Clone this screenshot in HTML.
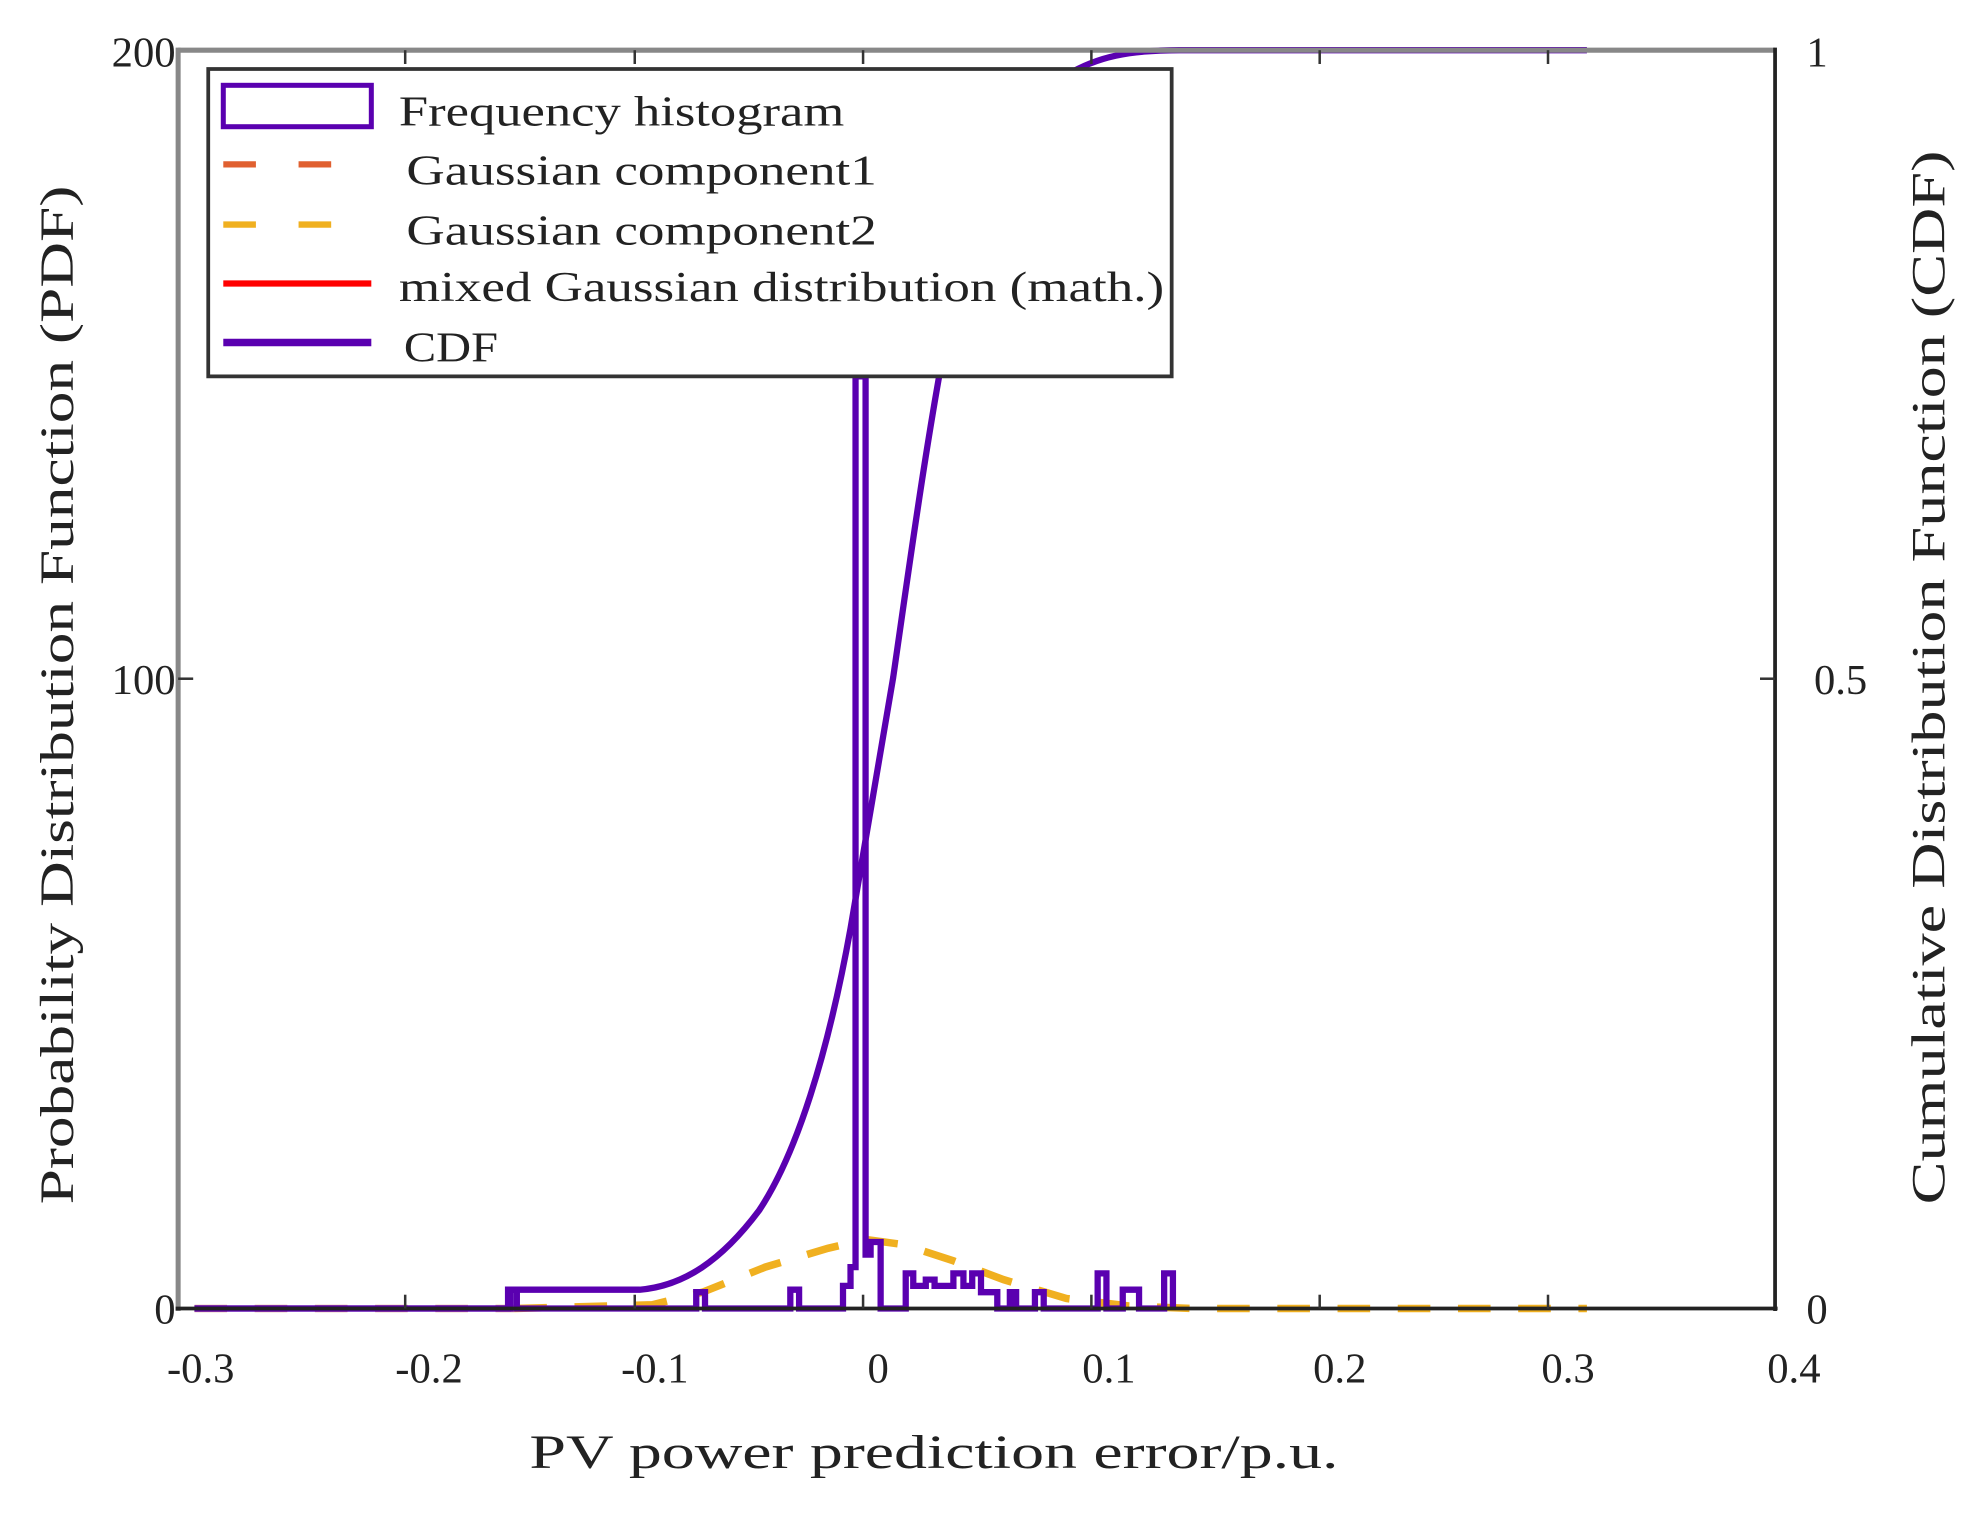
<!DOCTYPE html>
<html><head><meta charset="utf-8"><style>html,body{margin:0;padding:0;background:#fff;}svg{display:block}</style></head>
<body>
<svg width="1967" height="1513" viewBox="0 0 1568 1206" preserveAspectRatio="none" xmlns="http://www.w3.org/2000/svg" font-family="Liberation Serif, serif" fill="#222">
<rect width="1568" height="1206" fill="#fff"/>
<path d="M410,1043 L520,1040 L560,1030 L610,1010 L660,995 L690,988 L720,992 L760,1005 L800,1020 L850,1035 L900,1041 L950,1043 L1265,1043" fill="none" stroke="#f0b020" stroke-width="6" stroke-dasharray="26,22"/>
<path d="M155,1043 L410,1043" fill="none" stroke="#c86040" stroke-width="6" stroke-dasharray="26,22" opacity="0.6"/>
<g fill="none" stroke="#5a00b0" stroke-width="5">
<path d="M155,1043 L405,1043 L405,1028 L412,1028 L412,1043 L555,1043 L555,1030 L562,1030 L562,1043 L630,1043 L630,1028 L637,1028 L637,1043 L672,1043 L672,1025 L678,1025 L678,1010 L682,1010 L682,300 L690,300 L690,1000 L694,1000 L694,990 L702,990 L702,1043 L722,1043 L722,1015 L728,1015 L728,1025 L738,1025 L738,1020 L745,1020 L745,1025 L760,1025 L760,1015 L768,1015 L768,1025 L775,1025 L775,1015 L782,1015 L782,1030 L795,1030 L795,1043 L805,1043 L805,1030 L810,1030 L810,1043 L825,1043 L825,1030 L832,1030 L832,1043 L875,1043 L875,1015 L882,1015 L882,1043 L895,1043 L895,1028 L908,1028 L908,1043 L928,1043 L928,1015 L935,1015 L935,1043"/>
</g>
<path d="M155,1043 L407,1043 L407,1028 L510,1028 C545,1025 575,1005 605,965 C635,920 660,840 678,740 C690,670 700,610 712,540 C725,450 740,340 758,250 C780,160 810,90 850,60 C875,45 900,40 940,40 L1265,40" fill="none" stroke="#5a00b0" stroke-width="5"/>
<line x1="142" y1="40" x2="1415" y2="40" stroke="#888" stroke-width="4"/>
<line x1="142" y1="38" x2="142" y2="1045" stroke="#888" stroke-width="4"/>
<line x1="1415" y1="38" x2="1415" y2="1045" stroke="#222" stroke-width="3"/>
<line x1="140" y1="1043" x2="1417" y2="1043" stroke="#222" stroke-width="3"/>
<g stroke="#333" stroke-width="2">
<line x1="323" y1="1043" x2="323" y2="1032"/><line x1="506" y1="1043" x2="506" y2="1032"/><line x1="688" y1="1043" x2="688" y2="1032"/><line x1="870" y1="1043" x2="870" y2="1032"/><line x1="1052" y1="1043" x2="1052" y2="1032"/><line x1="1234" y1="1043" x2="1234" y2="1032"/>
<line x1="323" y1="40" x2="323" y2="51"/><line x1="506" y1="40" x2="506" y2="51"/><line x1="688" y1="40" x2="688" y2="51"/><line x1="870" y1="40" x2="870" y2="51"/><line x1="1052" y1="40" x2="1052" y2="51"/><line x1="1234" y1="40" x2="1234" y2="51"/>
<line x1="142" y1="541" x2="154" y2="541"/><line x1="1415" y1="541" x2="1403" y2="541"/>
</g>
<g font-size="34">
<text x="140" y="53" text-anchor="end">200</text>
<text x="140" y="553" text-anchor="end">100</text>
<text x="140" y="1055" text-anchor="end">0</text>
<text x="1440" y="53">1</text>
<text x="1446" y="553">0.5</text>
<text x="1440" y="1055">0</text>
<g text-anchor="middle">
<text x="160" y="1102">-0.3</text><text x="342" y="1102">-0.2</text><text x="522" y="1102">-0.1</text><text x="700" y="1102">0</text><text x="884" y="1102">0.1</text><text x="1068" y="1102">0.2</text><text x="1250" y="1102">0.3</text><text x="1430" y="1102">0.4</text>
</g>
<text x="422" y="1170" font-size="38" textLength="645" lengthAdjust="spacingAndGlyphs">PV power prediction error/p.u.</text>
<text transform="translate(58,960) rotate(-90)" font-size="38" textLength="812" lengthAdjust="spacingAndGlyphs">Probability Distribution Function (PDF)</text>
<text transform="translate(1550,960) rotate(-90)" font-size="38" textLength="840" lengthAdjust="spacingAndGlyphs">Cumulative Distribution Function (CDF)</text>
</g>
<rect x="166" y="55" width="768" height="245" fill="#fff" stroke="#333" stroke-width="3"/>
<rect x="178" y="68" width="118" height="33" fill="none" stroke="#5a00b0" stroke-width="4"/>
<line x1="178" y1="131" x2="268" y2="131" stroke="#e06030" stroke-width="5" stroke-dasharray="26,34"/>
<line x1="178" y1="179" x2="268" y2="179" stroke="#f0b020" stroke-width="5" stroke-dasharray="26,34"/>
<line x1="178" y1="226" x2="296" y2="226" stroke="#ff0000" stroke-width="5"/>
<line x1="178" y1="273" x2="296" y2="273" stroke="#5a00b0" stroke-width="6"/>
<g font-size="34" lengthAdjust="spacingAndGlyphs">
<text x="318" y="100" textLength="355" lengthAdjust="spacingAndGlyphs">Frequency histogram</text>
<text x="324" y="147" textLength="375" lengthAdjust="spacingAndGlyphs">Gaussian component1</text>
<text x="324" y="195" textLength="375" lengthAdjust="spacingAndGlyphs">Gaussian component2</text>
<text x="318" y="240" textLength="610" lengthAdjust="spacingAndGlyphs">mixed Gaussian distribution (math.)</text>
<text x="322" y="288" textLength="75" lengthAdjust="spacingAndGlyphs">CDF</text>
</g>
</svg>
</body></html>
